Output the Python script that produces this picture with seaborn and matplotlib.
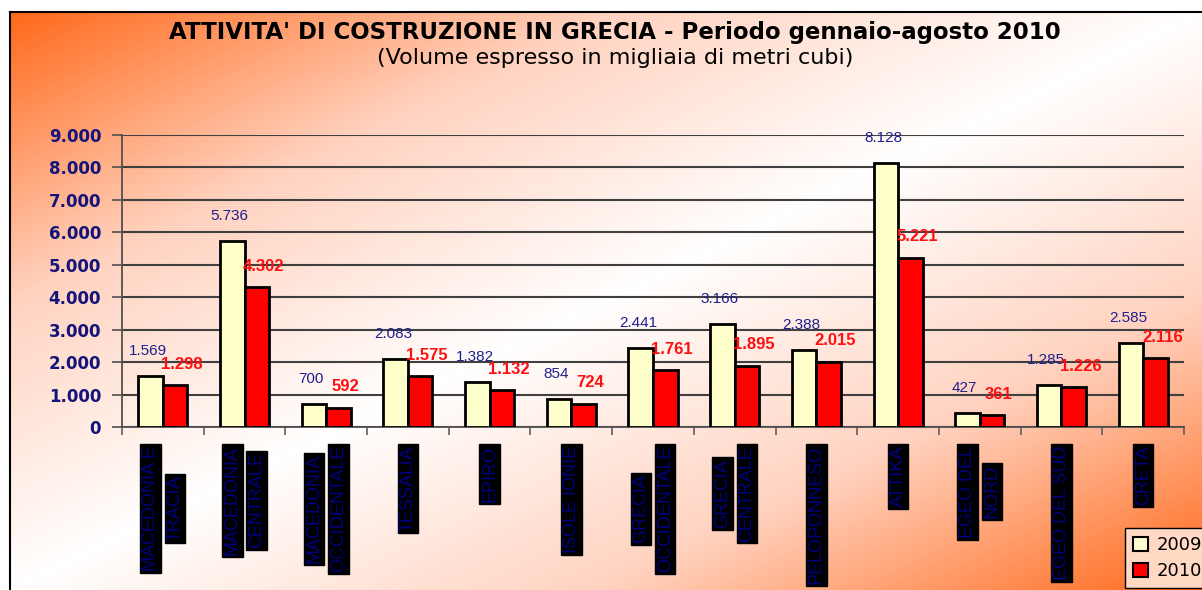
import numpy as np
import pandas as pd
import seaborn as sns
import matplotlib.pyplot as plt
from matplotlib.colors import LinearSegmentedColormap
from matplotlib.patches import Patch

regioni = ["MACEDONIA E\nTRACIA", "MACEDONIA\nCENTRALE", "MACEDONIA\nOCCIDENTALE",
           "TESSALIA", "EPIRO", "ISOLE IONIE", "GRECIA\nOCCIDENTALE",
           "GRECIA\nCENTRALE", "PELOPONNESO", "ATTIKA", "EGEO DEL\nNORD",
           "EGEO DEL SUD", "CRETA"]
vol_2009 = [1569, 5736, 700, 2083, 1382, 854, 2441, 3166, 2388, 8128, 427, 1285, 2585]
vol_2010 = [1298, 4302, 592, 1575, 1132, 724, 1761, 1895, 2015, 5221, 361, 1226, 2116]
anni = ["2009", "2010"]
y_ticks = [0, 1000, 2000, 3000, 4000, 5000, 6000, 7000, 8000, 9000]

df = pd.DataFrame({
    'regione': regioni * 2,
    'anno': [anni[0]] * len(regioni) + [anni[1]] * len(regioni),
    'volume': vol_2009 + vol_2010,
})

def fmt(v):
    return f"{v:,}".replace(",", ".")

W, H = 1202, 590
fig = plt.figure(figsize=(W / 100, H / 100), dpi=100)
fig.patch.set_facecolor('white')

# sfondo sfumato arancio -> bianco -> arancio
bg = fig.add_axes([10 / W, 0, 1 - 10 / W, 1 - 12 / H], zorder=-5)
xx, yy = np.meshgrid(np.linspace(0, 1, 300), np.linspace(0, 1, 150))
t = np.abs((xx + yy) / 2 - 0.5) * 2
cmap = LinearSegmentedColormap.from_list('bg', ['#ffffff', '#ffd2bf', '#ff6a1c'])
bg.imshow(t, cmap=cmap, aspect='auto', extent=(0, 1, 1, 0), vmin=0, vmax=1)
bg.set_xticks([])
bg.set_yticks([])
for s in ['right', 'bottom']:
    bg.spines[s].set_visible(False)
for s in ['left', 'top']:
    bg.spines[s].set_linewidth(1.5)
    bg.spines[s].set_color('black')

ax = fig.add_axes([122 / W, 1 - 427 / H, (1184 - 122) / W, (427 - 135) / H])
ax.set_facecolor('none')
sns.barplot(data=df, x='regione', y='volume', hue='anno',
            palette=['#ffffcc', '#ff0000'], width=0.6, edgecolor='black',
            linewidth=2, saturation=1, legend=False, ax=ax, zorder=3)

ax.set_ylim(0, 9000)
ax.set_xlim(-0.5, len(regioni) - 0.5)
ax.set_yticks(y_ticks)
ax.set_yticklabels([fmt(v) for v in y_ticks], fontsize=12, fontweight='bold',
                   color='#14147a', family='DejaVu Sans')
ax.tick_params(axis='y', length=7, width=1.2, color='#505050', pad=8)
ax.set_xticks(np.arange(-0.5, len(regioni), 1))
ax.set_xticklabels([])
ax.tick_params(axis='x', length=6, width=1.2, color='#606060')
ax.grid(axis='y', color='#404040', linewidth=1.5, zorder=0)
ax.set_axisbelow(True)
for s in ['top', 'right']:
    ax.spines[s].set_visible(False)
ax.spines['left'].set_color('#505050')
ax.spines['left'].set_linewidth(1.3)
ax.spines['bottom'].set_color('#505050')
ax.spines['bottom'].set_linewidth(1.3)
ax.set_xlabel('')
ax.set_ylabel('')

# etichette dei valori
for bar, v in zip(ax.containers[0], vol_2009):
    ax.annotate(fmt(v), (bar.get_x() + bar.get_width() / 2, bar.get_height()),
                xytext=(-2, 18), textcoords='offset points', ha='center', va='center',
                fontsize=11, color='#1f1f8f', family='Liberation Sans', zorder=5)
for bar, v in zip(ax.containers[1], vol_2010):
    ax.annotate(fmt(v), (bar.get_x() + bar.get_width() / 2, bar.get_height()),
                xytext=(5, 15), textcoords='offset points', ha='center', va='center',
                fontsize=12, fontweight='bold', color='#ff1010',
                family='Liberation Sans', zorder=5)

# etichette delle regioni (riquadri neri, testo ruotato)
top_off = -13.5
labels = []
for i, r in enumerate(regioni):
    lines = r.split('\n')
    n = len(lines)
    objs = []
    for j, line in enumerate(lines):
        dx = (j - (n - 1) / 2) * 17.5
        a = ax.annotate(line, (i, 0), xycoords=('data', 'axes fraction'),
                        xytext=(dx, top_off), textcoords='offset points',
                        rotation=90, ha='center', va='top', fontsize=13,
                        color='#000080', family='Liberation Sans',
                        bbox=dict(boxstyle='square,pad=0.1', fc='black', ec='black'))
        objs.append(a)
    labels.append(objs)

fig.canvas.draw()
r = fig.canvas.get_renderer()
for objs in labels:
    hs = [o.get_window_extent(r).height for o in objs]
    hmax = max(hs)
    for o, h in zip(objs, hs):
        dx, dy = o.xyann
        o.xyann = (dx, dy - (hmax - h) / 2 * 72 / 100)

fig.text(615 / W, 1 - 32 / H,
         "ATTIVITA' DI COSTRUZIONE IN GRECIA - Periodo gennaio-agosto 2010",
         ha='center', va='center', fontsize=16.5, fontweight='bold',
         family='DejaVu Sans', color='black')
fig.text(615 / W, 1 - 58 / H, "(Volume espresso in migliaia di metri cubi)",
         ha='center', va='center', fontsize=16, family='DejaVu Sans', color='black')

handles = [Patch(facecolor='#ffffcc', edgecolor='black', linewidth=1.5),
           Patch(facecolor='#ff0000', edgecolor='black', linewidth=1.5)]
leg = fig.legend(handles, anni, loc='upper left', bbox_to_anchor=(1125 / W, 1 - 528 / H),
                 bbox_transform=fig.transFigure, frameon=True, fancybox=False,
                 prop={'family': 'DejaVu Sans', 'size': 13}, handlelength=0.8,
                 handleheight=0.8, handletextpad=0.5, labelspacing=0.45,
                 borderpad=0.45, borderaxespad=0)
leg.get_frame().set_facecolor('#ffd9c4')
leg.get_frame().set_edgecolor('black')
leg.get_frame().set_alpha(1)

fig.savefig('out.png', dpi=100)
